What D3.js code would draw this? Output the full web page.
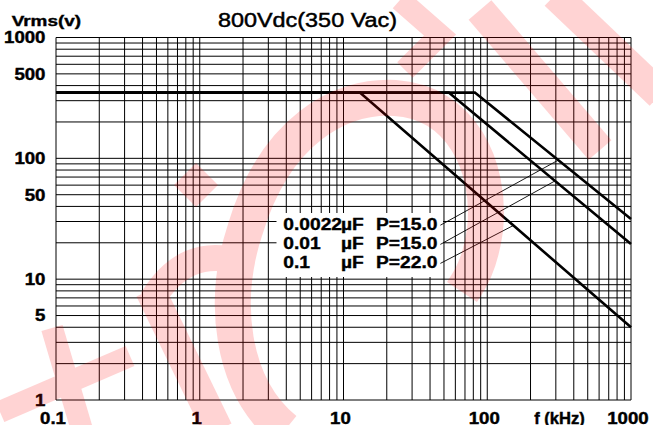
<!DOCTYPE html>
<html><head><meta charset="utf-8">
<script src="https://cdn.jsdelivr.net/npm/d3@7"></script>
<style>html,body{margin:0;padding:0;background:#fff;overflow:hidden}</style>
</head><body>
<svg id="c" width="653" height="425"></svg>
<script>
// ---- data ----
const titleText = "800Vdc(350 Vac)";
const yAxisTitle = "Vrms(v)";
const xAxisTitle = "f (kHz)";
const xTickValues = [0.1, 1, 10, 100, 1000];
const xTickLabels = ["0.1", "1", "10", "100", "1000"];
const yTickValues = [1, 5, 10, 50, 100, 500, 1000];
const yTickLabels = ["1", "5", "10", "50", "100", "500", "1000"];
const capLabels = ["0.0022", "0.01", "0.1"];
const unitLabel = "\u00B5F";
const powerLabels = ["P=15.0", "P=15.0", "P=22.0"];
// each curve: frequency (kHz) and Vrms (V) points
const seriesFreq = [[0.1, 82, 1000], [0.1, 54, 1000], [0.1, 13, 1000]];
const seriesVrms = [[350, 350, 31.5], [350, 350, 19.5], [350, 350, 4.0]];
// frequency where each leader line touches its curve
const leaderFreq = [312, 296, 152];

// ---- layout ----
const L = 56, R = 631, T = 37.5, B = 400;
const FONT = "'Liberation Sans', Arial, Helvetica, sans-serif";
const svg = d3.select("#c");
const x = d3.scaleLog().domain([0.1, 1000]).range([L, R]);
const y = d3.scaleLog().domain([1, 1000]).range([B, T]);

function placeText(g, str, ax, by, anchor, size, weight, stretch, thick) {
  const t = g.append("text").text(str)
    .attr("font-family", FONT).attr("font-size", size)
    .attr("font-weight", weight).attr("fill", "#000")
    .attr("stroke", "#000").attr("stroke-width", thick)
    .attr("text-anchor", "start").attr("y", by);
  const n = t.node().getComputedTextLength();
  const len = n * stretch;
  t.attr("textLength", len).attr("lengthAdjust", "spacingAndGlyphs");
  const f = anchor === "middle" ? 0.5 : anchor === "end" ? 1 : 0;
  t.attr("x", ax - len * f);
  return {left: ax - len * f, right: ax - len * f + len};
}

// ---- grid ----
const grid = svg.append("g").attr("stroke", "#000").attr("stroke-width", 1);
grid.selectAll("line.v").data(x.ticks()).join("line").attr("class", "v")
  .attr("x1", d => x(d)).attr("x2", d => x(d)).attr("y1", T).attr("y2", B);
grid.selectAll("line.h").data(y.ticks()).join("line").attr("class", "h")
  .attr("y1", d => y(d)).attr("y2", d => y(d)).attr("x1", L).attr("x2", R);

// ---- curves ----
const line = d3.line().x(d => x(d[0])).y(d => y(d[1]));
const curves = seriesFreq.map((fs, i) => fs.map((f, j) => [f, seriesVrms[i][j]]));
svg.append("g").selectAll("path").data(curves).join("path")
  .attr("d", line).attr("fill", "none").attr("stroke", "#000")
  .attr("stroke-width", 2.6).attr("stroke-linejoin", "miter");

function vAt(curve, f) {
  for (let k = 0; k < curve.length - 1; k++) {
    const a = curve[k], b = curve[k + 1];
    if (f >= a[0] && f <= b[0]) {
      const t = (Math.log(f) - Math.log(a[0])) / (Math.log(b[0]) - Math.log(a[0]));
      return Math.exp(Math.log(a[1]) + t * (Math.log(b[1]) - Math.log(a[1])));
    }
  }
  return curve[curve.length - 1][1];
}

// ---- legend block ----
const leg = svg.append("g");
leg.append("rect").attr("x", 276.5).attr("y", 213).attr("width", 166.5).attr("height", 64).attr("fill", "#fff");
const rowBase = [230.2, 249.4, 268.4];
const legSize = 16, legStretch = 1.2;
capLabels.forEach((c, i) => {
  placeText(leg, c, 283.3, rowBase[i], "start", legSize, "bold", legStretch, 0.35);
  placeText(leg, unitLabel, 341, rowBase[i], "start", legSize, "bold", legStretch, 0.35);
  const p = placeText(leg, powerLabels[i], 376, rowBase[i], "start", legSize, "bold", legStretch, 0.35);
  const f = leaderFreq[i];
  leg.append("line").attr("x1", p.right + 3).attr("y1", rowBase[i] - 5)
    .attr("x2", x(f)).attr("y2", y(vAt(curves[i], f)))
    .attr("stroke", "#000").attr("stroke-width", 0.9);
});

// ---- labels ----
const lab = svg.append("g");
const tickSize = 15.8, tickStretch = 1.18;
xTickValues.forEach((v, i) => placeText(lab, xTickLabels[i], x(v) - 3, 423.5, "middle", tickSize, "bold", tickStretch, 0.4));
yTickValues.forEach((v, i) => placeText(lab, yTickLabels[i], 45.5, y(v) + 5.8, "end", tickSize, "bold", tickStretch, 0.4));
placeText(lab, xAxisTitle, 559.5, 423.5, "middle", tickSize, "bold", 1.05, 0.4);
placeText(lab, yAxisTitle, 11.7, 26, "start", 15.5, "bold", 1.22, 0.4);
placeText(lab, titleText, 307.5, 27.3, "middle", 19.5, "normal", 1.2, 0.45);

// ---- watermark (decorative overlay from the source image) ----
const wmStrokes = [
  {d: "M52,328 L82,430", w: 22},
  {d: "M0,412 L130,356", w: 22},
  {d: "M150,290 L218,430", w: 30},
  {d: "M152,300 Q185,245 240,262", w: 26},
  {d: "M285,430 C230,385 222,300 245,230 C275,130 340,95 395,98 C460,102 492,165 485,230 C480,265 470,280 462,292", w: 36},
  {d: "M480,10 L600,150", w: 30},
  {d: "M555,-5 L660,95", w: 30},
  {d: "M400,0 L440,35 L405,70", w: 22}
];
const wm = svg.append("g").attr("opacity", 0.17);
wm.selectAll("path.s").data(wmStrokes).join("path").attr("class", "s")
  .attr("d", d => d.d).attr("fill", "none").attr("stroke", "#f00").attr("stroke-width", d => d.w);
wm.append("path").attr("d", "M196,163 L218,185 L196,207 L174,185 Z").attr("fill", "#f00");
</script>
</body></html>
